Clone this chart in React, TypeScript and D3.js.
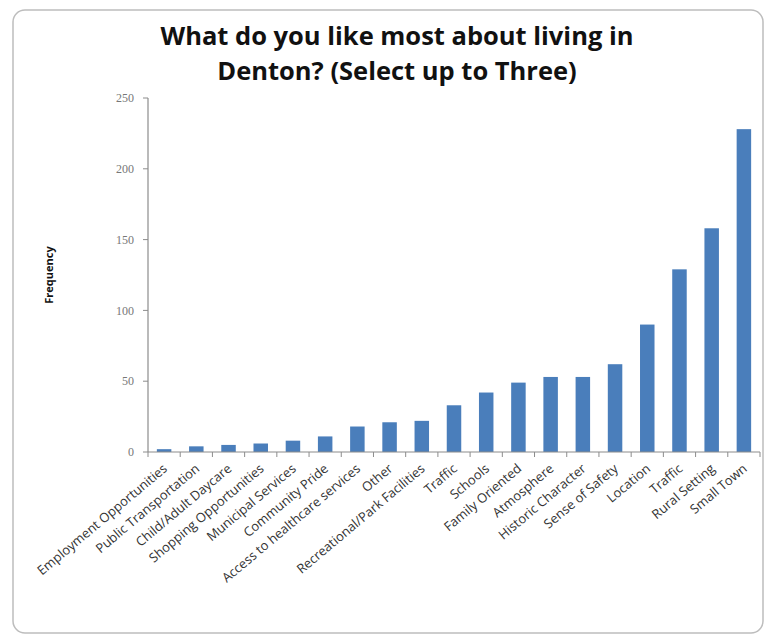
import React from "react";
import * as d3 from "d3";

const categories = [
  "Employment Opportunities",
  "Public Transportation",
  "Child/Adult Daycare",
  "Shopping Opportunities",
  "Municipal Services",
  "Community Pride",
  "Access to healthcare services",
  "Other",
  "Recreational/Park Facilities",
  "Traffic",
  "Schools",
  "Family Oriented",
  "Atmosphere",
  "Historic Character",
  "Sense of Safety",
  "Location",
  "Traffic",
  "Rural Setting",
  "Small Town",
];
const values = [2, 4, 5, 6, 8, 11, 18, 21, 22, 33, 42, 49, 53, 53, 62, 90, 129, 158, 228];
const yTicks = [0, 50, 100, 150, 200, 250];
const titleLines = ["What do you like most about living in", "Denton? (Select up to Three)"];
const yTitle = "Frequency";

export default function App() {
  const W = 766, H = 639;
  const left = 148, right = 760, top = 98, bottom = 452;
  const idx = categories.map((_, i) => String(i));
  const x = d3.scaleBand().domain(idx).range([left, right]).paddingInner(0.55).paddingOuter(0.275);
  const xb = d3.scaleBand().domain(idx).range([left, right]);
  const y = d3.scaleLinear().domain([0, 250]).range([bottom, top]);
  const axisColor = "#8c8c8c";
  const font = "Open Sans, Lato, sans-serif";
  return (
    <svg width={W} height={H} style={{ position: "absolute", left: 0, top: 0, background: "#fff" }}>
      <rect x={13} y={10} width={750} height={623} rx={12} fill="#fff" stroke="#bdbdbd" strokeWidth={1.5} />
      {titleLines.map((t, i) => (
        <text key={i} x={397} y={45 + i * 35} textAnchor="middle" fontFamily="Open Sans, sans-serif" fontWeight={700} fontSize={25.5} fill="#111">
          {t}
        </text>
      ))}
      <text transform={`translate(53,${(top + bottom) / 2}) rotate(-90)`} textAnchor="middle" fontFamily={font} fontWeight={700} fontSize={11} fill="#111">
        {yTitle}
      </text>
      {yTicks.map((t) => (
        <g key={t}>
          <line x1={left - 5} x2={left} y1={y(t)} y2={y(t)} stroke={axisColor} />
          <text x={left - 14} y={y(t)} dy="0.35em" textAnchor="end" fontFamily="Liberation Serif, serif" fontSize={12} fill="#777">
            {t}
          </text>
        </g>
      ))}
      {values.map((v, i) => (
        <rect key={i} x={x(String(i))!} width={x.bandwidth()} y={y(v)} height={y(0) - y(v)} fill="#4a7ebb" />
      ))}
      <line x1={left} x2={left} y1={top} y2={bottom} stroke={axisColor} strokeWidth={1.2} />
      <line x1={left} x2={right} y1={bottom} y2={bottom} stroke={axisColor} strokeWidth={1.2} />
      {idx.concat([String(categories.length)]).map((k, i) => {
        const xx = i < categories.length ? xb(k)! : right;
        return <line key={k} x1={xx} x2={xx} y1={bottom} y2={bottom + 5} stroke={axisColor} />;
      })}
      {categories.map((c, i) => {
        const cx = xb(String(i))! + xb.bandwidth() / 2 + 4;
        return (
          <text key={i} transform={`translate(${cx},${bottom + 18}) rotate(-40)`} textAnchor="end" fontFamily={font} fontSize={13} fill="#333">
            {c}
          </text>
        );
      })}
    </svg>
  );
}
